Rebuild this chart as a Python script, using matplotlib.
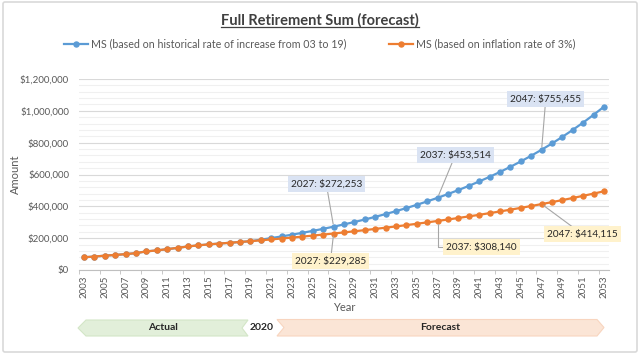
import matplotlib
matplotlib.use('Agg')
import matplotlib.pyplot as plt
from matplotlib.patches import Polygon, FancyBboxPatch
from matplotlib.ticker import MultipleLocator, FuncFormatter

plt.rcParams['font.family'] = ['Lato', 'DejaVu Sans']

# categories
years = list(range(2003, 2054))

# actual Full Retirement Sum 2003-2019 (shared by both series)
actual = [80000, 84500, 90000, 94600, 99600, 106000, 117000, 123000, 131000,
          139000, 148000, 155000, 161000, 166000, 171000, 176000, 181000]

# forecast 2020-2053, historical rate of increase (03 to 19)
hist_fc = [190476, 200448, 210942, 221986, 233608, 245838, 258709, 272253,
           286508, 301508, 317293, 333905, 351386, 369782, 389142, 409515,
           430955, 453514, 477260, 502246, 528541, 556212, 585332, 615976,
           648225, 682162, 717876, 755455, 795012, 836634, 880436, 926531,
           975039, 1026086]

# forecast 2020-2053, 3% inflation
infl_fc = [186430, 192023, 197783, 203717, 209828, 216123, 222607, 229285,
           236164, 243249, 250546, 258063, 265805, 273779, 281992, 290452,
           299166, 308140, 317385, 326906, 336713, 346815, 357219, 367936,
           378974, 390343, 402054, 414115, 426539, 439335, 452515, 466091,
           480073, 494475]

hist = actual + hist_fc
infl = actual + infl_fc

labels = ['MS (based on historical rate of increase from 03 to 19)',
          'MS (based on inflation rate of 3%)']
callout_years = [2027, 2037, 2047]

BLUE = '#5b9bd5'
ORANGE = '#ed7d31'
GRAY = '#595959'

fig = plt.figure(figsize=(6.4, 3.57), dpi=100)
W, H = 640, 357

# overlay in pixel coordinates for border, title and the timeline shapes
ov = fig.add_axes([0, 0, 1, 1])
ov.set_xlim(0, W)
ov.set_ylim(H, 0)
ov.axis('off')
ov.add_patch(FancyBboxPatch((3, 2), 634, 350, boxstyle='round,pad=0,rounding_size=2',
                            fc='white', ec='#d9d9d9', lw=1.2))

title = ov.text(320, 20, 'Full Retirement Sum (forecast)', ha='center', va='center',
                fontsize=10.5, fontweight='bold', color='#404040')

# Actual / 2020 / Forecast chevrons
ov.add_patch(Polygon([(78, 328), (86, 320), (248, 320), (242, 328), (248, 336), (86, 336)],
                     closed=True, fc='#e2efda', ec='#d3e6c7', lw=0.8))
ov.add_patch(Polygon([(277, 319.5), (597, 319.5), (604, 327.5), (597, 336), (277, 336), (284, 327.5)],
                     closed=True, fc='#fbe5d6', ec='#f8d5bf', lw=0.8))
ov.text(163, 328, 'Actual', ha='center', va='center', fontsize=7.5, fontweight='bold', color='#262626')
ov.text(262, 328, '2020', ha='center', va='center', fontsize=7.5, fontweight='bold', color='#262626')
ov.text(440, 328, 'Forecast', ha='center', va='center', fontsize=7.5, fontweight='bold', color='#262626')

# main chart
ax = fig.add_axes([78.8 / W, (H - 270) / H, 530.4 / W, 191 / H])
ax.set_facecolor('none')
ax.plot(years, hist, color=BLUE, lw=1.6, marker='o', ms=3.6, label=labels[0], zorder=3)
ax.plot(years, infl, color=ORANGE, lw=1.6, marker='o', ms=3.6, label=labels[1], zorder=4)

ax.set_xlim(2002.5, 2053.5)
ax.set_ylim(0, 1200000)
ax.yaxis.set_major_locator(MultipleLocator(200000))
ax.yaxis.set_minor_locator(MultipleLocator(40000))
ax.yaxis.set_major_formatter(FuncFormatter(lambda v, p: '${:,.0f}'.format(v)))
ax.grid(which='major', axis='y', color='#d9d9d9', lw=0.8)
ax.grid(which='minor', axis='y', color='#f0f0f0', lw=0.8)
ax.set_axisbelow(True)

ax.set_xticks(years[::2])
ax.set_xticklabels([str(y) for y in years[::2]], rotation=90)
ax.set_xticks([y - 0.5 for y in years[::2]], minor=True)
ax.tick_params(axis='x', which='major', length=0, pad=4, labelsize=7, labelcolor=GRAY)
ax.tick_params(axis='x', which='minor', length=3, color='#bfbfbf')
ax.tick_params(axis='y', which='both', length=0, pad=7, labelsize=7, labelcolor=GRAY)
for s in ['top', 'right', 'left']:
    ax.spines[s].set_visible(False)
ax.spines['bottom'].set_color('#bfbfbf')

ax.set_xlabel('Year', fontsize=8, color=GRAY, labelpad=3)
ax.set_ylabel('Amount', fontsize=8, color=GRAY)
ax.yaxis.set_label_coords((21 - 78.8) / 530.4, 0.5)

fig.legend(loc='center', bbox_to_anchor=(0.5, 1 - 44 / H), ncol=2, frameon=False,
           fontsize=7.7, handlelength=2.2, handletextpad=0.3, columnspacing=4.0,
           labelcolor=GRAY)

# callouts
blue_pos = [(2026.3, 540000), (2038.7, 722000), (2047.4, 1074000)]
orange_pos = [(2026.7, 56000), (2041.2, 144000), (2050.9, 226000)]
orange_conn = ['arc3', 'angle,angleA=0,angleB=90,rad=0', 'arc3']
for i, yr in enumerate(callout_years):
    k = years.index(yr)
    ax.annotate('{}: ${:,}'.format(yr, hist[k]), xy=(yr, hist[k]), xytext=blue_pos[i],
                ha='center', va='center', fontsize=7.2, color='#262626', zorder=6,
                bbox=dict(boxstyle='square,pad=0.3', fc='#dae3f3', ec='none'),
                arrowprops=dict(arrowstyle='-', color='#a6a6a6', lw=0.8, shrinkA=0, shrinkB=2))
    ax.annotate('{}: ${:,}'.format(yr, infl[k]), xy=(yr, infl[k]), xytext=orange_pos[i],
                ha='center', va='center', fontsize=7.2, color='#262626', zorder=6,
                bbox=dict(boxstyle='square,pad=0.3', fc='#fff2cc', ec='none'),
                arrowprops=dict(arrowstyle='-', color='#a6a6a6', lw=0.8, shrinkA=0, shrinkB=2,
                                connectionstyle=orange_conn[i]))

# underline the title
fig.canvas.draw()
bb = title.get_window_extent()
x0, x1 = bb.x0 / fig.dpi * 100, bb.x1 / fig.dpi * 100
ov.plot([x0, x1], [26.5, 26.5], color='#404040', lw=0.9)

fig.savefig('out.png', dpi=100)
